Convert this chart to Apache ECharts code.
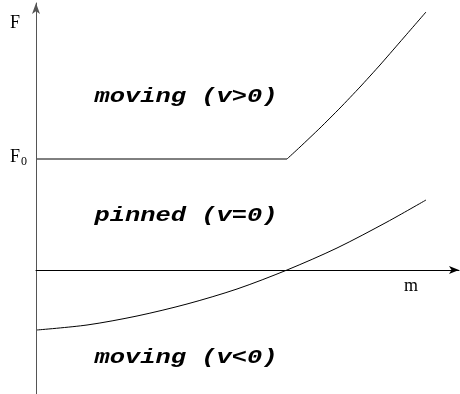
<!DOCTYPE html>
<html><head><meta charset="utf-8">
<script src="https://cdn.jsdelivr.net/npm/echarts@6/dist/echarts.min.js"></script>
<style>html,body{margin:0;padding:0;background:#fff}#c{width:460px;height:394px}</style>
</head><body><div id="c"></div>
<script>
// Flat part of upper boundary (F = F0) and its rising part
const upperFlatM = [1, 251];
const upperFlatF = [111, 111];
const upperRiseM = [251, 264, 284, 304, 324, 344, 364, 390];
const upperRiseF = [111, 123, 142, 162, 183, 205, 228, 258];
// Lower boundary
const lowerM = [1, 51, 101, 151, 201, 251, 301, 351, 390];
const lowerF = [-60, -55, -46, -34, -19, 0, 22, 48, 70];
// Texts
const axisLabelF = 'F';
const axisLabelF0 = 'F';
const axisLabelF0sub = '0';
const axisLabelM = 'm';
const regionLabels = ['moving (v>0)', 'pinned (v=0)', 'moving (v<0)'];

const zip = (a, b) => a.map((v, i) => [v, b[i]]);
const chart = echarts.init(document.getElementById('c'));
const lineStyle = {color: '#000', width: 1};
const serif = '"Liberation Serif", "DejaVu Serif", serif';
const mono = 'bold italic 21px "Liberation Mono", "DejaVu Sans Mono", monospace';
const regionText = (t, y) => ({type: 'text', x: 186, y: y, scaleX: 1.21,
  style: {text: t, font: mono, fill: '#000', align: 'center', verticalAlign: 'middle'}});
chart.setOption({
  animation: false,
  grid: {left: 36, right: 1, top: 3, bottom: 0},
  xAxis: {type: 'value', min: 0, max: 423,
    axisLine: {show: true, onZero: true, symbol: ['none', 'arrow'], symbolSize: [6, 10], lineStyle: {color: '#000', width: 1}},
    axisTick: {show: false}, axisLabel: {show: false}, splitLine: {show: false}},
  yAxis: {type: 'value', min: -124, max: 267,
    axisLine: {show: true, onZero: true, symbol: ['none', 'arrow'], symbolSize: [6, 11], lineStyle: {color: '#555', width: 1}},
    axisTick: {show: false}, axisLabel: {show: false}, splitLine: {show: false}},
  series: [
    {type: 'line', data: zip(upperFlatM, upperFlatF), showSymbol: false, lineStyle},
    {type: 'line', data: zip(upperRiseM, upperRiseF), showSymbol: false, smooth: 0.2, lineStyle},
    {type: 'line', data: zip(lowerM, lowerF), showSymbol: false, smooth: 0.3, lineStyle}
  ],
  graphic: [
    {type: 'text', x: 10, y: 23, style: {text: axisLabelF, font: '18px ' + serif, fill: '#000', verticalAlign: 'middle'}},
    {type: 'text', x: 10, y: 157, style: {text: axisLabelF0, font: '18px ' + serif, fill: '#000', verticalAlign: 'middle'}},
    {type: 'text', x: 21, y: 162, style: {text: axisLabelF0sub, font: '12px ' + serif, fill: '#000', verticalAlign: 'middle'}},
    {type: 'text', x: 411, y: 286, style: {text: axisLabelM, font: '18px ' + serif, fill: '#000', align: 'center', verticalAlign: 'middle'}},
    regionText(regionLabels[0], 97),
    regionText(regionLabels[1], 216),
    regionText(regionLabels[2], 358)
  ]
});
</script></body></html>
